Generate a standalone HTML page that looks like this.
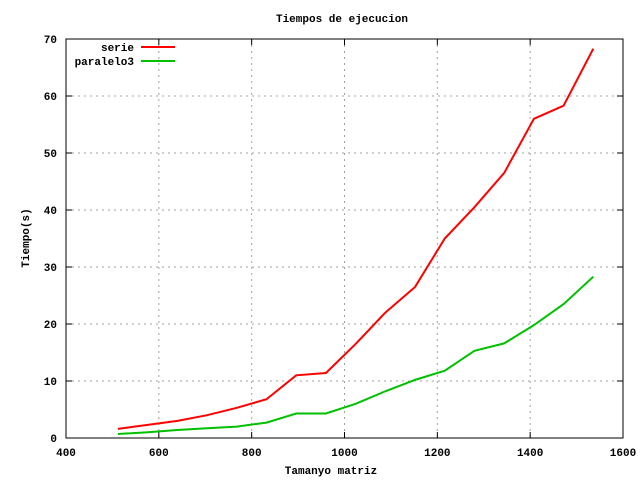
<!DOCTYPE html>
<html><head><meta charset="utf-8"><style>
body{margin:0;background:#fff}
svg text{font-family:"Liberation Mono",monospace;font-size:11px;font-weight:bold;fill:#000}
</style></head><body>
<svg id="c" width="640" height="480">
<rect width="640" height="480" fill="#fff"/>
<g id="grid"></g>
<rect x="66" y="39" width="557" height="399" fill="none" stroke="#000" stroke-width="1"/>
<g id="ticks"></g>
<g id="series"></g>
<text x="342" y="22" text-anchor="middle">Tiempos de ejecucion</text>
<text x="331" y="474" text-anchor="middle">Tamanyo matriz</text>
<text transform="translate(29,238) rotate(-90)" text-anchor="middle">Tiempo(s)</text>
<g>
<text x="134" y="51" text-anchor="end">serie</text>
<line x1="141" y1="47" x2="175" y2="47" stroke="#f00" stroke-width="2"/>
<text x="134" y="65" text-anchor="end">paralelo3</text>
<line x1="141" y1="61" x2="175" y2="61" stroke="#00c000" stroke-width="2"/>
</g>
</svg>
<script>
const sizes=[512,576,640,704,768,832,896,960,1024,1088,1152,1216,1280,1344,1408,1472,1536];
const serie=[1.6,2.3,3.0,4.0,5.3,6.8,11.0,11.4,16.5,22.0,26.5,35.0,40.5,46.5,56.0,58.3,68.3];
const paralelo3=[0.7,1.0,1.4,1.7,2.0,2.7,4.3,4.3,6.0,8.2,10.2,11.8,15.3,16.6,19.8,23.5,28.3];
const xTicks=[400,600,800,1000,1200,1400,1600];
const yTicks=[0,10,20,30,40,50,60,70];
const NS="http://www.w3.org/2000/svg";
const X=v=>66+(v-400)/1200*557;
const Y=v=>438-v/70*399;
const grid=document.getElementById('grid'),ticks=document.getElementById('ticks'),ser=document.getElementById('series');
function mk(tag,attrs,parent){const e=document.createElementNS(NS,tag);for(const k in attrs)e.setAttribute(k,attrs[k]);parent.appendChild(e);return e;}
xTicks.forEach(t=>{
 const x=X(t);
 if(t>400&&t<1600){const g=mk('line',{x1:x,y1:39,x2:x,y2:438,stroke:'#a0a0a0','stroke-dasharray':'2,4'},grid);
 
 }
 const l=mk('line',{x1:x,y1:438,x2:x,y2:432,stroke:'#000'},ticks);
 
 
 const l2=mk('line',{x1:x,y1:39,x2:x,y2:45,stroke:'#000'},ticks);
 
 
 const tx=mk('text',{x:x,y:456,'text-anchor':'middle'},ticks);tx.textContent=t;
 
 
});
yTicks.forEach(t=>{
 const y=Y(t);
 if(t>0&&t<70){const g=mk('line',{x1:66,y1:y,x2:623,y2:y,stroke:'#a0a0a0','stroke-dasharray':'2,4'},grid);
 
 }
 const l=mk('line',{x1:66,y1:y,x2:72,y2:y,stroke:'#000'},ticks);
 
 
 const l2=mk('line',{x1:623,y1:y,x2:617,y2:y,stroke:'#000'},ticks);
 
 
 const tx=mk('text',{x:57,y:y+4,'text-anchor':'end'},ticks);tx.textContent=t;
 
 
});
function line(vals,color,name){
 const p=mk('polyline',{points:vals.map((v,i)=>X(sizes[i])+','+Y(v)).join(' '),fill:'none',stroke:color,'stroke-width':2},ser);
 
 
}
line(serie,'#f00','serie-line');
line(paralelo3,'#00c000','paralelo3-line');
</script>
</body></html>
